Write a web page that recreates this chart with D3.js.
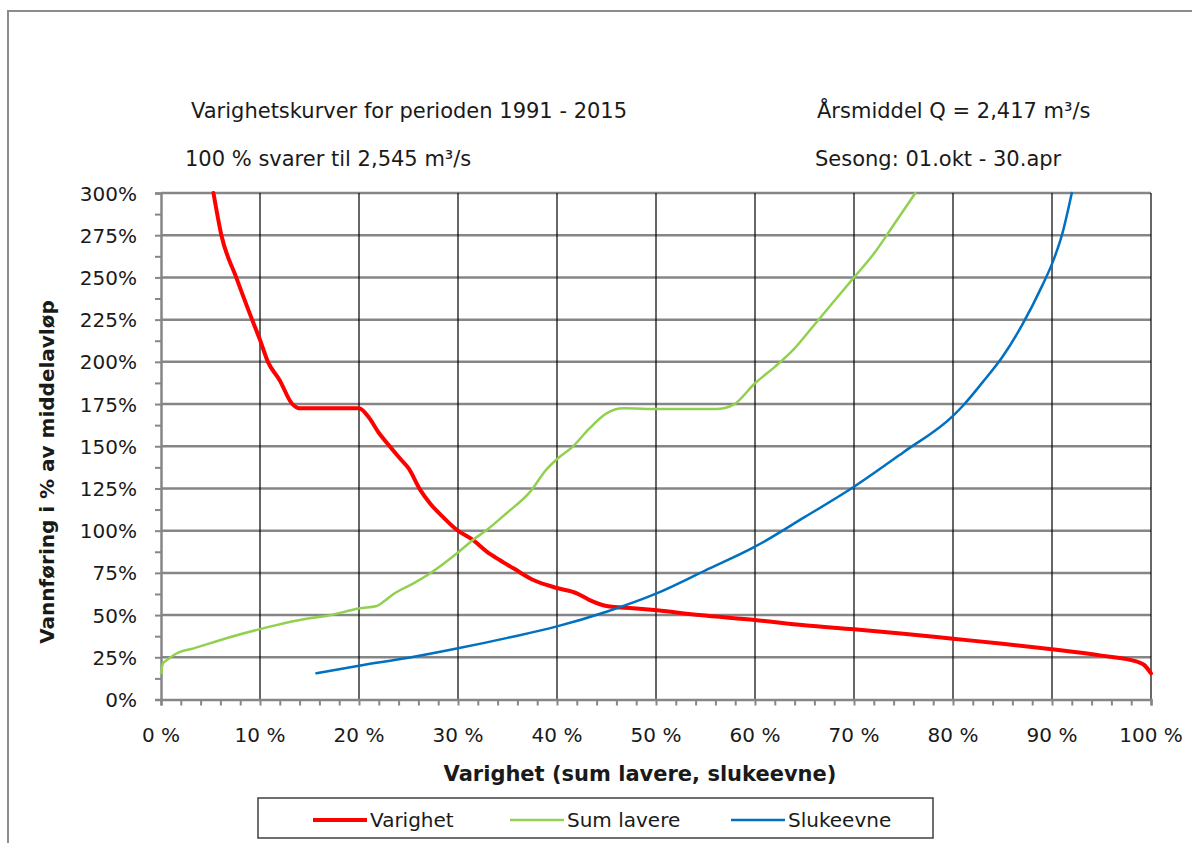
<!DOCTYPE html>
<html>
<head>
<meta charset="utf-8">
<script src="https://cdn.jsdelivr.net/npm/d3@7"></script>
<style>
  body { margin: 0; background: #fff; }
  svg { display: block; font-family: "DejaVu Sans", "Liberation Sans", sans-serif; }
</style>
</head>
<body>
<svg id="svg" width="1192" height="843"></svg>
<script>
const svg = d3.select("#svg");

// x = varighet (%), y = vannføring i % av middelavløp
const varighetX = [5.3, 6.1, 7.6, 9.2, 10, 10.8, 12, 13.2, 14, 16, 18, 20, 21, 22, 23.1, 24.1, 25, 26.2, 27.2, 28.5, 29.9, 31.5, 32.9, 34.2, 35.6, 37.6, 40.1, 42, 43.3, 45, 47.7, 50.1, 54.4, 60, 65, 70, 75, 80, 85, 90, 95, 98.6, 99.3, 100];
const varighetY = [300, 275, 250, 225, 213, 200, 189, 175.5, 172.5, 172.5, 172.5, 172.5, 167, 158, 150, 143, 137, 124, 116, 108, 100.4, 94.5, 87.6, 82.6, 77.7, 70.8, 65.9, 62.9, 58.9, 55.4, 54, 52.8, 50, 47.1, 44, 41.6, 39, 36, 33, 29.7, 26, 22.4, 20.5, 15.5];

const sumLavereX = [0, 0.2, 0.6, 1.6, 3.3, 6.6, 10, 15, 16.7, 20.1, 21.8, 22.5, 23.5, 25.5, 27.2, 29.9, 31.5, 32.9, 34.9, 37.3, 38.9, 40.1, 41.6, 43.3, 45, 46.7, 50.4, 56.1, 57.8, 60, 62, 64, 66, 68, 70, 72, 74, 76.2];
const sumLavereY = [15.5, 21.4, 23.4, 27.4, 30.3, 36.3, 41.7, 48.1, 49.5, 54, 55.4, 58, 62.5, 68.8, 74.8, 86.6, 94.5, 100.4, 110.3, 123.1, 136, 142.9, 149.8, 160.7, 169.5, 172.5, 172, 172, 174.5, 187.3, 197, 208, 222, 236, 250, 264, 281, 300];

const slukeevneX = [15.7, 20, 25, 30, 35, 40, 45, 50, 55, 60, 65, 70, 75, 80, 81, 83, 85, 87, 89, 90, 91, 92];
const slukeevneY = [15.5, 20, 24.7, 30.3, 36.5, 43.3, 52, 62.7, 76.5, 90.5, 108, 126, 146.5, 168, 174, 188, 203, 222, 245, 258, 275, 300];

const yTicks = [0, 25, 50, 75, 100, 125, 150, 175, 200, 225, 250, 275, 300];
const xTicks = [0, 10, 20, 30, 40, 50, 60, 70, 80, 90, 100];

const series = [
  { name: "Varighet", color: "#ff0000", width: 4, xs: varighetX, ys: varighetY },
  { name: "Sum lavere", color: "#92d050", width: 2.5, xs: sumLavereX, ys: sumLavereY },
  { name: "Slukeevne", color: "#0070c0", width: 2.5, xs: slukeevneX, ys: slukeevneY },
];

const plotLeft = 161, plotRight = 1151, plotTop = 193, plotBottom = 699.5;
const x = d3.scaleLinear().domain([0, 100]).range([plotLeft, plotRight]);
const y = d3.scaleLinear().domain([0, 300]).range([plotBottom, plotTop]);

// ytre ramme
svg.append("rect")
  .attr("x", 8).attr("y", 11)
  .attr("width", 1200).attr("height", 850)
  .attr("fill", "none").attr("stroke", "#8c8c8c").attr("stroke-width", 2);

// horisontale rutenett
svg.append("g")
  .selectAll("line")
  .data(yTicks.slice(1))
  .join("line")
  .attr("x1", plotLeft).attr("x2", plotRight)
  .attr("y1", (d) => y(d)).attr("y2", (d) => y(d))
  .attr("stroke", "#868686").attr("stroke-width", 2.5);

// vertikale rutenett
svg.append("g")
  .selectAll("line")
  .data(xTicks.slice(1))
  .join("line")
  .attr("x1", (d) => x(d)).attr("x2", (d) => x(d))
  .attr("y1", plotTop).attr("y2", plotBottom)
  .attr("stroke", "#000").attr("stroke-width", 1.2);

// y-akse
const yAxis = svg.append("g")
  .attr("transform", `translate(${plotLeft},0)`)
  .call(d3.axisLeft(y).tickValues(d3.range(0, 301, 12.5)).tickSize(6).tickFormat(""));
yAxis.selectAll("line").attr("stroke", "#868686").attr("stroke-width", 2);
yAxis.select(".domain").attr("stroke", "#868686").attr("stroke-width", 2.5);

svg.append("g")
  .selectAll("text")
  .data(yTicks)
  .join("text")
  .attr("x", 137)
  .attr("y", (d) => y(d) + 7.5)
  .attr("text-anchor", "end")
  .attr("font-size", 20)
  .attr("fill", "#1a1a1a")
  .text((d) => d + "%");

// x-akse
const xAxis = svg.append("g")
  .attr("transform", `translate(0,${plotBottom})`)
  .call(d3.axisBottom(x).tickValues(d3.range(0, 101, 2)).tickSize(6).tickFormat(""));
xAxis.selectAll("line").attr("stroke", "#868686").attr("stroke-width", 2);
xAxis.select(".domain").attr("stroke", "#868686").attr("stroke-width", 2.5);

svg.append("g")
  .selectAll("text")
  .data(xTicks)
  .join("text")
  .attr("x", (d) => x(d))
  .attr("y", 742)
  .attr("text-anchor", "middle")
  .attr("font-size", 20)
  .attr("fill", "#1a1a1a")
  .text((d) => d + " %");

// kurver
const line = d3.line()
  .x((d) => x(d[0]))
  .y((d) => y(d[1]))
  .curve(d3.curveMonotoneX);

svg.append("g")
  .selectAll("path")
  .data(series)
  .join("path")
  .attr("d", (s) => line(d3.zip(s.xs, s.ys)))
  .attr("fill", "none")
  .attr("stroke", (s) => s.color)
  .attr("stroke-width", (s) => s.width)
  .attr("stroke-linejoin", "round")
  .attr("stroke-linecap", "round");

// tekster
const texts = [
  { t: "Varighetskurver for perioden 1991 - 2015", x: 191, y: 118 },
  { t: "Årsmiddel Q = 2,417 m³/s", x: 817, y: 118 },
  { t: "100 % svarer til 2,545 m³/s", x: 185, y: 166 },
  { t: "Sesong: 01.okt - 30.apr", x: 815, y: 166 },
];
svg.append("g")
  .selectAll("text")
  .data(texts)
  .join("text")
  .attr("x", (d) => d.x).attr("y", (d) => d.y)
  .attr("font-size", 21)
  .attr("fill", "#1a1a1a")
  .text((d) => d.t);

svg.append("text")
  .attr("x", 640).attr("y", 781)
  .attr("text-anchor", "middle")
  .attr("font-size", 21).attr("font-weight", "bold")
  .attr("fill", "#1a1a1a")
  .text("Varighet (sum lavere, slukeevne)");

svg.append("text")
  .attr("transform", "translate(54,472) rotate(-90)")
  .attr("text-anchor", "middle")
  .attr("font-size", 20).attr("font-weight", "bold")
  .attr("fill", "#1a1a1a")
  .text("Vannføring i % av middelavløp");

// legend
svg.append("rect")
  .attr("x", 258).attr("y", 798)
  .attr("width", 675).attr("height", 40)
  .attr("fill", "#fff").attr("stroke", "#404040").attr("stroke-width", 1.5);

const legendX = [313, 510, 731];
const legend = svg.append("g")
  .selectAll("g")
  .data(series)
  .join("g")
  .attr("transform", (d, i) => `translate(${legendX[i]},820)`);
legend.append("line")
  .attr("x1", 0).attr("x2", 54)
  .attr("stroke", (d) => d.color)
  .attr("stroke-width", (d) => d.width);
legend.append("text")
  .attr("x", 57).attr("y", 7)
  .attr("font-size", 20)
  .attr("fill", "#1a1a1a")
  .text((d) => d.name);
</script>
</body>
</html>
